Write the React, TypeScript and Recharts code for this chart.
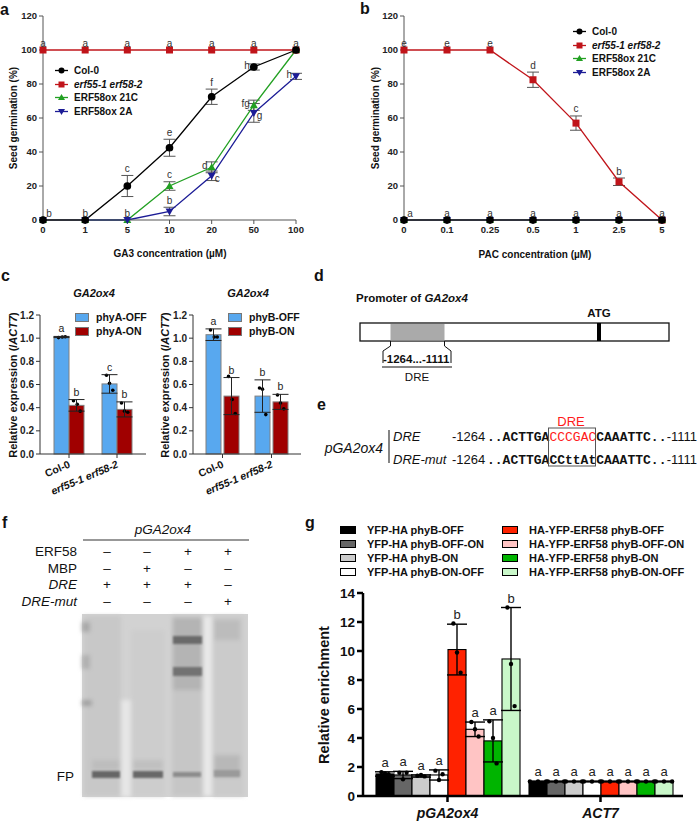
import React from "react";
import {
  LineChart,
  Line,
  BarChart,
  Bar,
  XAxis,
  YAxis,
  ErrorBar,
  LabelList,
  Legend,
} from "recharts";

const FONT = "'Liberation Sans', Arial, Helvetica, sans-serif";
const MONO = "'Liberation Mono', 'DejaVu Sans Mono', monospace";

// ---------- panel a : GA3 dose response
const gaDoses = ["0", "1", "5", "10", "20", "50", "100"];
const gaCol0 = [0, 0, 20, 42.5, 72.5, 90, 100];
const gaCol0Err = [0, 0, 6.2, 5, 4.5, 1.8, 0];
const gaErf = [100, 100, 100, 100, 100, 100, 100];
const ga21C = [0, 0, 0, 20, 31, 67.5, 100];
const ga21CErr = [0, 0, 0, 2.5, 3.2, 3, 0];
const ga2A = [0, 0, 0, 5, 26, 63, 84.5];
const ga2AErr = [0, 0, 0, 2.5, 2.8, 5.5, 1.8];
const gaCol0Letters = ["b", "b", "c", "e", "f", "h", ""];
const gaErfLetters = ["a", "a", "a", "a", "a", "a", "a"];
const ga21CLetters = ["", "", "b", "c", "d", "fg", ""];
const ga2ALetters = ["", "", "", "b", "c", "g", "h"];

// ---------- panel b : PAC dose response
const pacDoses = ["0", "0.1", "0.25", "0.5", "1", "2.5", "5"];
const pacErf = [100, 100, 100, 82.5, 57, 22.5, 0];
const pacErfErr = [0, 0, 0, 4.5, 4.2, 2.2, 0];
const pacCol0 = [0, 0, 0, 0, 0, 0, 0];
const pac21C = [0, 0, 0, 0, 0, 0, 0];
const pac2A = [0, 0, 0, 0, 0, 0, 0];
const pacErfLetters = ["e", "e", "e", "d", "c", "b", "a"];
const pacCol0Letters = ["a", "a", "a", "a", "a", "a", ""];

// ---------- panel c : GA2ox4 expression
const cGenotypes = ["Col-0", "erf55-1 erf58-2"];
const phyAOff = [1.01, 0.605];
const phyAOffErr = [0.005, 0.08];
const phyAOffReps = [[1.005, 1.01, 1.012], [0.68, 0.61, 0.55]];
const phyAOn = [0.42, 0.385];
const phyAOnErr = [0.05, 0.065];
const phyAOnReps = [[0.46, 0.43, 0.37], [0.44, 0.37, 0.36]];
const phyAOffLetters = ["a", "c"];
const phyAOnLetters = ["b", "b"];
const phyBOff = [1.03, 0.5];
const phyBOffErr = [0.05, 0.14];
const phyBOffReps = [[1.07, 1.01, 1.01], [0.57, 0.56, 0.34]];
const phyBOn = [0.5, 0.45];
const phyBOnErr = [0.16, 0.065];
const phyBOnReps = [[0.67, 0.47, 0.35], [0.51, 0.44, 0.39]];
const phyBOffLetters = ["a", "b"];
const phyBOnLetters = ["b", "b"];

// ---------- panel g : ChIP enrichment
const gLoci = ["pGA2ox4", "ACT7"];
const gGroups = [
  "YFP-HA phyB-OFF",
  "YFP-HA phyB-OFF-ON",
  "YFP-HA phyB-ON",
  "YFP-HA phyB-ON-OFF",
  "HA-YFP-ERF58 phyB-OFF",
  "HA-YFP-ERF58 phyB-OFF-ON",
  "HA-YFP-ERF58 phyB-ON",
  "HA-YFP-ERF58 phyB-ON-OFF",
];
const gPromoter = [1.52, 1.45, 1.38, 1.45, 10.1, 4.6, 3.8, 9.45];
const gPromoterErr = [0.15, 0.25, 0.08, 0.35, 1.75, 0.5, 1.45, 3.55];
const gPromoterReps = [
  [1.65, 1.55, 1.5],
  [1.6, 1.15, 1.6],
  [1.4, 1.45, 1.35],
  [1.75, 1.1, 1.5],
  [11.9, 9.9, 8.5],
  [5.1, 4.6, 4.1],
  [5.15, 4.0, 2.25],
  [13.0, 9.1, 6.2],
];
const gAct7 = [1, 1, 1, 1, 1, 1, 1, 1];
const gAct7Err = [0.03, 0.03, 0.03, 0.03, 0.03, 0.03, 0.03, 0.03];
const gAct7Reps = gAct7.map(() => [1, 1, 1]);
const gPromoterLetters = ["a", "a", "a", "a", "b", "a", "a", "b"];
const gAct7Letters = ["a", "a", "a", "a", "a", "a", "a", "a"];

// styles
const RED = "#c0141a";
const GREEN = "#22a022";
const NAVY = "#1c1c96";
const C_BLUE = "#58a8ef";
const C_RED = "#a00000";
const G_COLORS = ["#000000", "#666666", "#cccccc", "#ffffff", "#ff2200", "#ffc4c4", "#00b400", "#c9f7c9"];

// letter placement around the points in a/b
const gaCol0Place = ["topright", "top", "top", "top", "top", "left", "top"];
const ga21CPlace = ["top", "top", "top", "top", "left", "left", "top"];
const ga2APlace = ["top", "top", "top", "top", "right", "right", "left"];
const allTop = ["top", "top", "top", "top", "top", "top", "top"];
const pacCol0Place = ["topright", "top", "top", "top", "top", "top", "top"];

function addSeries(rows: any[], key: string, vals: number[], errs: number[] | null, letters: string[], place: string[]) {
  rows.forEach((r, i) => {
    const e = errs ? errs[i] : 0;
    r[key] = vals[i];
    r[key + "Err"] = e;
    r[key + "Let"] = letters[i];
    r[key + "Lab"] = place[i] === "left" || place[i] === "right" ? vals[i] : vals[i] + e;
  });
}

const gaData: any[] = gaDoses.map((dose) => ({ dose }));
addSeries(gaData, "col0", gaCol0, gaCol0Err, gaCol0Letters, gaCol0Place);
addSeries(gaData, "erf", gaErf, null, gaErfLetters, allTop);
addSeries(gaData, "ox21c", ga21C, ga21CErr, ga21CLetters, ga21CPlace);
addSeries(gaData, "ox2a", ga2A, ga2AErr, ga2ALetters, ga2APlace);

const pacData: any[] = pacDoses.map((dose) => ({ dose }));
addSeries(pacData, "erf", pacErf, pacErfErr, pacErfLetters, allTop);
addSeries(pacData, "col0", pacCol0, null, pacCol0Letters, pacCol0Place);
addSeries(pacData, "ox21c", pac21C, null, pac21C.map(() => ""), allTop);
addSeries(pacData, "ox2a", pac2A, null, pac2A.map(() => ""), allTop);

const letterAt = (place: string[]) => (p: any) => {
  const v = p.value;
  if (!v) return null;
  const vb = p.viewBox || {};
  const x = vb.x ?? p.x;
  const y = vb.y ?? p.y;
  const pl = place[p.index];
  let dx = 0;
  let dy = -3.5;
  let anchor = "middle";
  if (pl === "left") { dx = -4; dy = 2; anchor = "end"; }
  if (pl === "right") { dx = 3; dy = 6; anchor = "start"; }
  if (pl === "topright") { dx = 6; }
  return (
    <text x={x + dx} y={y + dy} textAnchor={anchor} fontSize={10} fill="#333" fontFamily={FONT}>
      {v}
    </text>
  );
};

const Square = (color: string) => (p: any) => (
  <rect key={p.index} x={p.cx - 3.5} y={p.cy - 3.5} width={7} height={7} fill={color} />
);
const TriUp = (color: string) => (p: any) => (
  <path key={p.index} d={`M${p.cx},${p.cy - 4} L${p.cx + 4},${p.cy + 3} L${p.cx - 4},${p.cy + 3} Z`} fill={color} />
);
const TriDown = (color: string) => (p: any) => (
  <path key={p.index} d={`M${p.cx},${p.cy + 4} L${p.cx + 4},${p.cy - 3} L${p.cx - 4},${p.cy - 3} Z`} fill={color} />
);

const lineItems = [
  { name: "Col-0", color: "#000", mark: "circle", italic: false },
  { name: "erf55-1 erf58-2", color: RED, mark: "square", italic: true },
  { name: "ERF58ox 21C", color: GREEN, mark: "up", italic: false },
  { name: "ERF58ox 2A", color: NAVY, mark: "down", italic: false },
];

const LineLegend = () => (
  <div style={{ fontFamily: FONT, fontSize: 10, fontWeight: "bold", color: "#111" }}>
    {lineItems.map((it) => (
      <div key={it.name} style={{ display: "flex", alignItems: "center", height: 13.5 }}>
        <svg width={13} height={9}>
          <line x1={0} x2={13} y1={4.5} y2={4.5} stroke={it.color} strokeWidth={1.3} />
          {it.mark === "circle" && <circle cx={6.5} cy={4.5} r={3} fill={it.color} />}
          {it.mark === "square" && <rect x={3.5} y={1.5} width={6} height={6} fill={it.color} />}
          {it.mark === "up" && <path d="M6.5,1 L10,7 L3,7 Z" fill={it.color} />}
          {it.mark === "down" && <path d="M6.5,8 L10,2 L3,2 Z" fill={it.color} />}
        </svg>
        <span style={{ marginLeft: 6, fontStyle: it.italic ? "italic" : "normal" }}>{it.name}</span>
      </div>
    ))}
  </div>
);

const axisTick = { fontSize: 9.5, fontWeight: "bold", fill: "#222", fontFamily: FONT };

function DoseChart({ data, legendPos, width, yWidth, right }: any) {
  const errStyle = { width: 6, stroke: "#555", strokeWidth: 1 };
  return (
    <LineChart width={width} height={270} data={data} margin={{ top: 16, right, bottom: 0, left: 0 }}>
      <XAxis dataKey="dose" interval={0} height={50} tick={axisTick} tickSize={4}
        axisLine={{ stroke: "#555" }} tickLine={{ stroke: "#555" }} />
      <XAxis xAxisId="top" orientation="top" dataKey="dose" height={0} tick={false} tickLine={false}
        axisLine={{ stroke: "#888" }} />
      <YAxis domain={[0, 120]} ticks={[0, 20, 40, 60, 80, 100, 120]} width={yWidth} tick={axisTick}
        tickSize={4} axisLine={{ stroke: "#555" }} tickLine={{ stroke: "#555" }} />
      <YAxis yAxisId="right" orientation="right" width={0} tick={false} tickLine={false}
        axisLine={{ stroke: "#888" }} />
      <Legend layout="vertical" align="center" verticalAlign="middle" content={() => <LineLegend />}
        wrapperStyle={{ left: legendPos[0], top: legendPos[1], width: 140, height: 60 }} />
      <Line dataKey="erf" stroke={RED} strokeWidth={1.3} dot={Square(RED)} isAnimationActive={false}>
        <ErrorBar dataKey="erfErr" {...errStyle} />
      </Line>
      <Line dataKey="ox21c" stroke={GREEN} strokeWidth={1.3} dot={TriUp(GREEN)} isAnimationActive={false}>
        <ErrorBar dataKey="ox21cErr" {...errStyle} />
      </Line>
      <Line dataKey="ox2a" stroke={NAVY} strokeWidth={1.3} dot={TriDown(NAVY)} isAnimationActive={false}>
        <ErrorBar dataKey="ox2aErr" {...errStyle} />
      </Line>
      <Line dataKey="col0" stroke="#000" strokeWidth={1.3} dot={{ r: 3.2, fill: "#000", stroke: "#000" }} isAnimationActive={false}>
        <ErrorBar dataKey="col0Err" {...errStyle} />
      </Line>
      {data === gaData ? (
        <>
          <Line dataKey="col0Lab" stroke="none" dot={false} activeDot={false} isAnimationActive={false}>
            <LabelList dataKey="col0Let" content={letterAt(gaCol0Place)} />
          </Line>
          <Line dataKey="erfLab" stroke="none" dot={false} activeDot={false} isAnimationActive={false}>
            <LabelList dataKey="erfLet" content={letterAt(allTop)} />
          </Line>
          <Line dataKey="ox21cLab" stroke="none" dot={false} activeDot={false} isAnimationActive={false}>
            <LabelList dataKey="ox21cLet" content={letterAt(ga21CPlace)} />
          </Line>
          <Line dataKey="ox2aLab" stroke="none" dot={false} activeDot={false} isAnimationActive={false}>
            <LabelList dataKey="ox2aLet" content={letterAt(ga2APlace)} />
          </Line>
        </>
      ) : (
        <>
          <Line dataKey="erfLab" stroke="none" dot={false} activeDot={false} isAnimationActive={false}>
            <LabelList dataKey="erfLet" content={letterAt(allTop)} />
          </Line>
          <Line dataKey="col0Lab" stroke="none" dot={false} activeDot={false} isAnimationActive={false}>
            <LabelList dataKey="col0Let" content={letterAt(pacCol0Place)} />
          </Line>
        </>
      )}
    </LineChart>
  );
}

// bar shape: draws the bar, replicate dots and the letter above the error bar
function barShape(values: number[], errs: number[], reps: number[][], letters: string[], offsets: number[][], st: any) {
  return (p: any) => {
    const { x, y, width, height, index } = p;
    const v = values[index];
    const k = v ? height / v : 0;
    const base = y + height;
    return (
      <g>
        <rect x={x} y={y} width={width} height={height} fill={p.fill} stroke={st.stroke} strokeWidth={st.sw} />
        {reps[index].map((r, j) => (
          <circle key={j} cx={x + width * offsets[index][j]} cy={base - r * k} r={st.r} fill="#000" />
        ))}
        {letters[index] ? (
          <text x={x + width / 2} y={base - (v + errs[index]) * k - st.gap} textAnchor="middle"
            fontSize={st.fs} fill="#222" fontFamily={FONT}>
            {letters[index]}
          </text>
        ) : null}
      </g>
    );
  };
}

const RotTick = (p: any) => {
  const { x, y, payload } = p;
  const italic = payload.value !== "Col-0";
  return (
    <text x={x + 2} y={y + 7} transform={`rotate(-23, ${x + 2}, ${y + 7})`} textAnchor="end"
      fontSize={10.5} fontWeight="bold" fontStyle={italic ? "italic" : "normal"} fontFamily={FONT} fill="#111">
      {payload.value}
    </text>
  );
};

const BarLegend = ({ items }: any) => (
  <div style={{ fontFamily: FONT, fontSize: 10.5, fontWeight: "bold", color: "#111" }}>
    {items.map((it: any) => (
      <div key={it.name} style={{ display: "flex", alignItems: "center", height: 14 }}>
        <span style={{ display: "inline-block", width: 14, height: 9, background: it.color,
          border: "1px solid #777", boxSizing: "border-box" }} />
        <span style={{ marginLeft: 7 }}>{it.name}</span>
      </div>
    ))}
  </div>
);

const cOffsets = [[0.3, 0.55, 0.75], [0.3, 0.5, 0.72]];

function ExprChart({ off, offErr, offReps, offLet, on, onErr, onReps, onLet, names, yWidth, gap, width }: any) {
  const rows = cGenotypes.map((g, i) => ({ g, off: off[i], offErr: offErr[i], on: on[i], onErr: onErr[i] }));
  const st = { stroke: "#808080", sw: 1, r: 1.8, fs: 10.5, gap: 4 };
  return (
    <BarChart width={width} height={230} data={rows} margin={{ top: 15, right: 4, bottom: 0, left: 0 }}
      barSize={15} barGap={gap}>
      <XAxis dataKey="g" interval={0} height={76} tick={<RotTick />} tickSize={4}
        padding={{ left: 5, right: 5 }} axisLine={{ stroke: "#333" }} tickLine={{ stroke: "#333" }} />
      <YAxis domain={[0, 1.2]} ticks={[0, 0.2, 0.4, 0.6, 0.8, 1.0, 1.2]} tickFormatter={(v: number) => v.toFixed(1)}
        width={yWidth} tick={{ ...axisTick, fontSize: 10 }} tickSize={4} axisLine={{ stroke: "#333" }} tickLine={{ stroke: "#333" }} />
      <Legend layout="vertical" align="center" verticalAlign="middle"
        content={() => <BarLegend items={[{ name: names[0], color: C_BLUE }, { name: names[1], color: C_RED }]} />}
        wrapperStyle={{ left: yWidth + 35, top: 10, width: 90, height: 30 }} />
      <Bar dataKey="off" fill={C_BLUE} isAnimationActive={false}
        shape={barShape(off, offErr, offReps, offLet, cOffsets, st)}>
        <ErrorBar dataKey="offErr" width={8} stroke="#222" strokeWidth={1} />
      </Bar>
      <Bar dataKey="on" fill={C_RED} isAnimationActive={false}
        shape={barShape(on, onErr, onReps, onLet, cOffsets, st)}>
        <ErrorBar dataKey="onErr" width={8} stroke="#222" strokeWidth={1} />
      </Bar>
    </BarChart>
  );
}

const gRows = gLoci.map((locus, li) => {
  const r: any = { locus };
  gGroups.forEach((_, gi) => {
    r["s" + gi] = li === 0 ? gPromoter[gi] : gAct7[gi];
    r["s" + gi + "Err"] = li === 0 ? gPromoterErr[gi] : gAct7Err[gi];
  });
  return r;
});

const GTick = (p: any) => (
  <text x={p.x} y={p.y + 14} textAnchor="middle" fontSize={14} fontWeight="bold" fontStyle="italic"
    fontFamily={FONT} fill="#111">
    {p.payload.value}
  </text>
);

const GLegend = () => (
  <div style={{ fontFamily: FONT, fontSize: 11, fontWeight: "bold", color: "#111", whiteSpace: "nowrap",
    display: "grid", gridTemplateColumns: "162px 200px", gridAutoFlow: "column", gridTemplateRows: "repeat(4, 14px)" }}>
    {gGroups.map((name, i) => (
      <div key={name} style={{ display: "flex", alignItems: "center" }}>
        <span style={{ display: "inline-block", width: 16, height: 8, background: G_COLORS[i],
          border: "1px solid #000", boxSizing: "border-box", flex: "none" }} />
        <span style={{ marginLeft: 11 }}>{name}</span>
      </div>
    ))}
  </div>
);

function ChipChart() {
  const st = { stroke: "#000", sw: 1.1, r: 2.2, fs: 13, gap: 5 };
  return (
    <BarChart width={390} height={310} data={gRows} margin={{ top: 78, right: 7, bottom: 0, left: 0 }}
      barSize={18} barGap={0}>
      <XAxis dataKey="locus" interval={0} height={29} tick={<GTick />} tickSize={6}
        padding={{ left: 8, right: 6 }} axisLine={{ stroke: "#000", strokeWidth: 2.5 }}
        tickLine={{ stroke: "#000", strokeWidth: 2.5 }} />
      <YAxis domain={[0, 14]} ticks={[0, 2, 4, 6, 8, 10, 12, 14]} width={63}
        tick={{ fontSize: 13.5, fontWeight: "bold", fill: "#111", fontFamily: FONT }} tickSize={6}
        axisLine={{ stroke: "#000", strokeWidth: 2.5 }} tickLine={{ stroke: "#000", strokeWidth: 2.5 }} />
      <Legend layout="vertical" align="center" verticalAlign="middle" content={() => <GLegend />}
        wrapperStyle={{ left: 40, top: 8, width: 362, height: 60 }} />
      {gGroups.map((name, gi) => {
        const vals = [gPromoter[gi], gAct7[gi]];
        const errs = [gPromoterErr[gi], gAct7Err[gi]];
        const reps = [gPromoterReps[gi], gAct7Reps[gi]];
        const lets = [gPromoterLetters[gi], gAct7Letters[gi]];
        return (
          <Bar key={name} dataKey={"s" + gi} name={name} fill={G_COLORS[gi]} isAnimationActive={false}
            shape={barShape(vals, errs, reps, lets, [[0.3, 0.5, 0.7], [0.05, 0.5, 0.95]], st)}>
            <ErrorBar dataKey={"s" + gi + "Err"} width={10} stroke="#000" strokeWidth={1.4} />
          </Bar>
        );
      })}
    </BarChart>
  );
}

const minusPlus = [
  ["ERF58", false, ["–", "–", "+", "+"]],
  ["MBP", false, ["–", "+", "–", "–"]],
  ["DRE", true, ["+", "+", "+", "–"]],
  ["DRE-mut", true, ["–", "–", "–", "+"]],
] as const;

function Overlay() {
  const T = { fontFamily: FONT, fill: "#111" } as any;
  const laneX = [107, 147, 188, 228];
  return (
    <svg width={698} height={825} style={{ position: "absolute", left: 0, top: 0, pointerEvents: "none" }}>
      <defs>
        <filter id="bl2" x="-20%" y="-20%" width="140%" height="140%"><feGaussianBlur stdDeviation="2.2" /></filter>
        <filter id="bl1" x="-20%" y="-50%" width="140%" height="200%"><feGaussianBlur stdDeviation="1.3" /></filter>
      </defs>
      {/* panel letters */}
      <g {...T} fontSize={16} fontWeight="bold">
        <text x={0} y={15}>a</text>
        <text x={360} y={14}>b</text>
        <text x={1} y={281}>c</text>
        <text x={314} y={281}>d</text>
        <text x={317} y={410}>e</text>
        <text x={2} y={528}>f</text>
        <text x={305} y={528}>g</text>
      </g>
      {/* axis titles a/b */}
      <g {...T} fontSize={10} fontWeight="bold" textAnchor="middle">
        <text x={170} y={257}>GA3 concentration (µM)</text>
        <text x={535} y={258}>PAC concentration (µM)</text>
        <text transform="translate(17,118) rotate(-90)">Seed germination (%)</text>
        <text transform="translate(379,118) rotate(-90)">Seed germination (%)</text>
      </g>
      {/* panel c titles */}
      <g {...T} fontSize={11} fontWeight="bold" textAnchor="middle">
        <text x={94} y={297} fontStyle="italic">GA2ox4</text>
        <text x={248} y={297} fontStyle="italic">GA2ox4</text>
        <text transform="translate(17,385) rotate(-90)">Relative expression (/<tspan fontStyle="italic">ACT7</tspan>)</text>
        <text transform="translate(169,385) rotate(-90)">Relative expression (/<tspan fontStyle="italic">ACT7</tspan>)</text>
      </g>
      {/* panel g y title */}
      <text {...T} fontSize={14.5} fontWeight="bold" textAnchor="middle" transform="translate(329,695) rotate(-90)">
        Relative enrichment
      </text>

      {/* panel d */}
      <text {...T} x={356} y={302} fontSize={11.5} fontWeight="bold">
        Promoter of <tspan fontStyle="italic">GA2ox4</tspan>
      </text>
      <text {...T} x={599} y={317} fontSize={11.5} fontWeight="bold" textAnchor="middle">ATG</text>
      <rect x={360} y={323} width={309} height={18} fill="#fff" stroke="#111" strokeWidth={1.3} />
      <rect x={390.5} y={324} width={54} height={16.5} fill="#aaaaaa" />
      <rect x={597} y={323} width={4} height={18} fill="#000" />
      <path d="M390.5,341 L390.5,346 L383,351 L383,363" fill="none" stroke="#111" strokeWidth={1} />
      <path d="M444.5,341 L444.5,346 L451,351 L451,363" fill="none" stroke="#111" strokeWidth={1} />
      <text {...T} x={383} y={363} fontSize={11.5} fontWeight="bold">-1264...-1111</text>
      <line x1={382} x2={452} y1={367} y2={367} stroke="#111" strokeWidth={1.2} />
      <text {...T} x={417} y={381} fontSize={11.5} textAnchor="middle">DRE</text>

      {/* panel e */}
      <text {...T} x={383} y={453} fontSize={14} fontStyle="italic" textAnchor="end">pGA2ox4</text>
      <line x1={389} x2={389} y1={430} y2={463} stroke="#333" strokeWidth={1.2} />
      <text {...T} x={393} y={441} fontSize={13} fontStyle="italic">DRE</text>
      <text {...T} x={393} y={464} fontSize={13} fontStyle="italic">DRE-mut</text>
      <text {...T} x={452} y={441} fontSize={13}>-1264</text>
      <text {...T} x={452} y={464} fontSize={13}>-1264</text>
      <text x={487} y={441} fontSize={13} fontFamily={MONO} fill="#111">
        <tspan fontWeight="bold">..ACTTGA</tspan>
        <tspan fill="#ff1a1a">CCCGAC</tspan>
        <tspan fontWeight="bold">CAAATTC..</tspan>
      </text>
      <text x={487} y={464} fontSize={13} fontFamily={MONO} fill="#111" fontWeight="bold">..ACTTGACCttAtCAAATTC..</text>
      <text {...T} x={697} y={441} fontSize={13} textAnchor="end">-1111</text>
      <text {...T} x={697} y={464} fontSize={13} textAnchor="end">-1111</text>
      <rect x={548.5} y={428} width={47} height={38} fill="none" stroke="#555" strokeWidth={1} />
      <text x={571} y={426} fontSize={13} fill="#ff1a1a" fontFamily={FONT} textAnchor="middle">DRE</text>

      {/* panel f */}
      <text {...T} x={163} y={534} fontSize={13.5} fontStyle="italic" textAnchor="middle">pGA2ox4</text>
      <line x1={83} x2={249} y1={540} y2={540} stroke="#333" strokeWidth={1.2} />
      {minusPlus.map(([label, it, signs], ri) => (
        <g key={label} {...T} fontSize={13.5}>
          <text x={77} y={556 + ri * 16.5} textAnchor="end" fontStyle={it ? "italic" : "normal"}>{label}</text>
          {signs.map((s, si) => (
            <text key={si} x={laneX[si]} y={556 + ri * 16.5} textAnchor="middle">{s}</text>
          ))}
        </g>
      ))}
      <text {...T} x={74} y={781} fontSize={13.5} textAnchor="end">FP</text>
      {/* gel */}
      <rect x={82} y={614} width={166} height={183} fill="#d2d2d2" />
      <g filter="url(#bl2)">
        <rect x={84} y={616} width={37} height={180} fill="#c8c8c8" />
        <rect x={131} y={630} width={34} height={166} fill="#cdcdcd" />
        <rect x={121} y={700} width={10} height={97} fill="#e6e6e6" />
        <rect x={172} y={616} width={31} height={180} fill="#c6c6c6" />
        <rect x={203} y={616} width={9} height={180} fill="#e8e8e8" />
        <rect x={213} y={616} width={31} height={180} fill="#cbcbcb" />
        <rect x={173} y={618} width={29} height={72} fill="#b4b4b4" />
        <rect x={214} y={620} width={26} height={20} fill="#bcbcbc" />
        <rect x={82} y={622} width={8} height={10} fill="#a8a8a8" />
        <rect x={82} y={655} width={8} height={14} fill="#b0b0b0" />
        <rect x={82} y={700} width={10} height={6} fill="#a0a0a0" />
        <rect x={92} y={760} width={28} height={10} fill="#bdbdbd" />
        <rect x={133} y={760} width={30} height={10} fill="#c0c0c0" />
        <rect x={214} y={755} width={26} height={22} fill="#b8b8b8" />
      </g>
      <g filter="url(#bl1)">
        <rect x={173} y={636} width={29} height={8} fill="#6a6a6a" />
        <rect x={173} y={667} width={29} height={9} fill="#727272" />
        <rect x={92} y={771} width={28} height={7} fill="#666" />
        <rect x={133} y={771} width={30} height={7} fill="#686868" />
        <rect x={173} y={772} width={28} height={5} fill="#8c8c8c" />
        <rect x={214} y={770} width={26} height={7} fill="#9a9a9a" />
      </g>
    </svg>
  );
}

export default function App() {
  return (
    <div style={{ position: "absolute", left: 0, top: 0, width: 698, height: 825, background: "#fff", fontFamily: FONT }}>
      <div style={{ position: "absolute", left: 0, top: 0 }}>
        <DoseChart data={gaData} legendPos={[55, 64]} width={310} yWidth={43} right={14} />
      </div>
      <div style={{ position: "absolute", left: 345, top: 0 }}>
        <DoseChart data={pacData} legendPos={[228, 25]} width={330} yWidth={59} right={13} />
      </div>
      <div style={{ position: "absolute", left: 0, top: 300 }}>
        <ExprChart off={phyAOff} offErr={phyAOffErr} offReps={phyAOffReps} offLet={phyAOffLetters}
          on={phyAOn} onErr={phyAOnErr} onReps={phyAOnReps} onLet={phyAOnLetters}
          names={["phyA-OFF", "phyA-ON"]} yWidth={40} gap={0} width={150} />
      </div>
      <div style={{ position: "absolute", left: 150, top: 300 }}>
        <ExprChart off={phyBOff} offErr={phyBOffErr} offReps={phyBOffReps} offLet={phyBOffLetters}
          on={phyBOn} onErr={phyBOnErr} onReps={phyBOnReps} onLet={phyBOnLetters}
          names={["phyB-OFF", "phyB-ON"]} yWidth={43} gap={3} width={155} />
      </div>
      <div style={{ position: "absolute", left: 300, top: 515 }}>
        <ChipChart />
      </div>
      <Overlay />
    </div>
  );
}
